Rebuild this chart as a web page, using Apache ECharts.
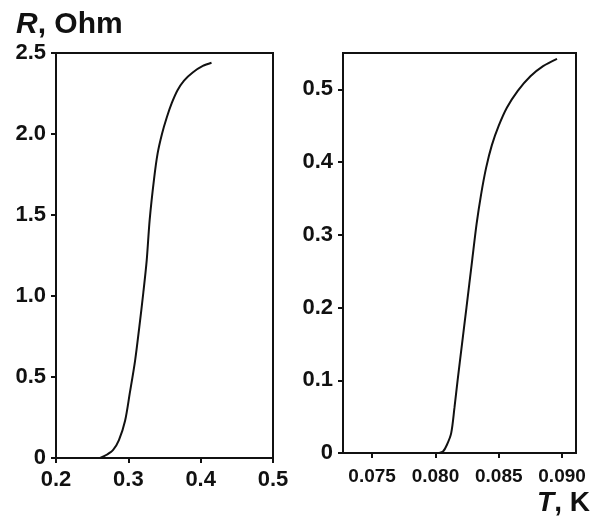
<!DOCTYPE html>
<html>
<head>
<meta charset="utf-8">
<script src="https://cdn.jsdelivr.net/npm/echarts@6/dist/echarts.min.js"></script>
<style>
  html, body { margin: 0; padding: 0; background: #fff; }
  #chart { width: 599px; height: 522px; }
</style>
</head>
<body>
<div id="chart"></div>
<script>
// left panel: R(T), 0.2 - 0.5 K
var leftT = [0.261, 0.270, 0.279, 0.287, 0.2955, 0.302, 0.3093, 0.3152, 0.3207, 0.3254, 0.3295, 0.3355, 0.3405, 0.3465, 0.353, 0.360, 0.368, 0.377, 0.389, 0.403, 0.415];
var leftR = [0, 0.02, 0.05, 0.11, 0.23, 0.40, 0.60, 0.81, 1.02, 1.22, 1.47, 1.72, 1.88, 2.00, 2.10, 2.19, 2.27, 2.33, 2.38, 2.42, 2.44];

// right panel: R(T), zoomed near 0.08 K
var rightT = [0.0803, 0.0806, 0.0809, 0.08124, 0.0815, 0.08175, 0.0821, 0.08245, 0.0829, 0.08325, 0.0836, 0.0840, 0.08445, 0.0850, 0.08565, 0.0865, 0.0875, 0.0885, 0.0896];
var rightR = [0, 0.002, 0.011, 0.027, 0.062, 0.100, 0.150, 0.200, 0.265, 0.315, 0.355, 0.392, 0.423, 0.450, 0.475, 0.498, 0.518, 0.532, 0.542];

var rightXTicks = [0.075, 0.080, 0.085, 0.090];
var rightYTicks = [0, 0.1, 0.2, 0.3, 0.4, 0.5];

var font = 'Liberation Sans, Arial, sans-serif';

function pairs(xs, ys) {
    var out = [];
    for (var i = 0; i < xs.length; i++) {
        out.push([xs[i], ys[i]]);
    }
    return out;
}

function oneDec(v) {
    return v === 0 ? '0' : v.toFixed(1);
}

var axisBase = {
    axisLine: { show: true, onZero: false, lineStyle: { color: '#111', width: 2 } },
    axisTick: { show: true, length: 5, lineStyle: { color: '#111', width: 2 } },
    splitLine: { show: false }
};

var myChart = echarts.init(document.getElementById('chart'), null, { renderer: 'canvas' });

var option = {
    backgroundColor: '#ffffff',
    animation: false,
    title: [
        {
            text: '{i|R}, Ohm',
            left: 11,
            top: 5,
            textStyle: {
                rich: {
                    i: { fontStyle: 'italic', fontWeight: 'bold', fontSize: 30, fontFamily: font, color: '#111' }
                },
                fontSize: 30, fontWeight: 'bold', fontFamily: font, color: '#111'
            }
        },
        {
            text: '{i|T}, K',
            right: 4,
            top: 484,
            textStyle: {
                rich: {
                    i: { fontStyle: 'italic', fontWeight: 'bold', fontSize: 28, fontFamily: font, color: '#111' }
                },
                fontSize: 28, fontWeight: 'bold', fontFamily: font, color: '#111'
            }
        }
    ],
    grid: [
        { left: 56, top: 53, width: 217, height: 405, show: true, borderColor: '#111', borderWidth: 2 },
        { left: 343, top: 53, width: 233, height: 400, show: true, borderColor: '#111', borderWidth: 2 }
    ],
    xAxis: [
        Object.assign({}, axisBase, {
            type: 'value', gridIndex: 0, min: 0.2, max: 0.5, interval: 0.1,
            axisLabel: { margin: 11, fontSize: 22, fontWeight: 'bold', fontFamily: font, color: '#111', formatter: oneDec }
        }),
        Object.assign({}, axisBase, {
            type: 'value', gridIndex: 1, min: 0.0727, max: 0.0911,
            axisTick: { show: true, length: 5, customValues: rightXTicks, lineStyle: { color: '#111', width: 2 } },
            axisLabel: {
                margin: 14, fontSize: 19, fontWeight: 'bold', fontFamily: font, color: '#111',
                customValues: rightXTicks,
                formatter: function (v) { return v.toFixed(3); }
            }
        })
    ],
    yAxis: [
        Object.assign({}, axisBase, {
            type: 'value', gridIndex: 0, min: 0, max: 2.5, interval: 0.5,
            axisLabel: { margin: 10, fontSize: 22, fontWeight: 'bold', fontFamily: font, color: '#111', formatter: oneDec }
        }),
        Object.assign({}, axisBase, {
            type: 'value', gridIndex: 1, min: 0, max: 0.55,
            axisTick: { show: true, length: 5, customValues: rightYTicks, lineStyle: { color: '#111', width: 2 } },
            axisLabel: {
                margin: 10, fontSize: 22, fontWeight: 'bold', fontFamily: font, color: '#111',
                customValues: rightYTicks, formatter: oneDec
            }
        })
    ],
    series: [
        {
            type: 'line', xAxisIndex: 0, yAxisIndex: 0,
            data: pairs(leftT, leftR),
            smooth: 0.3, showSymbol: false, symbol: 'none',
            lineStyle: { color: '#111', width: 2 }
        },
        {
            type: 'line', xAxisIndex: 1, yAxisIndex: 1,
            data: pairs(rightT, rightR),
            smooth: 0.3, showSymbol: false, symbol: 'none',
            lineStyle: { color: '#111', width: 2 }
        }
    ]
};

if (option && typeof option === 'object') {
    myChart.setOption(option);
}
</script>
</body>
</html>
